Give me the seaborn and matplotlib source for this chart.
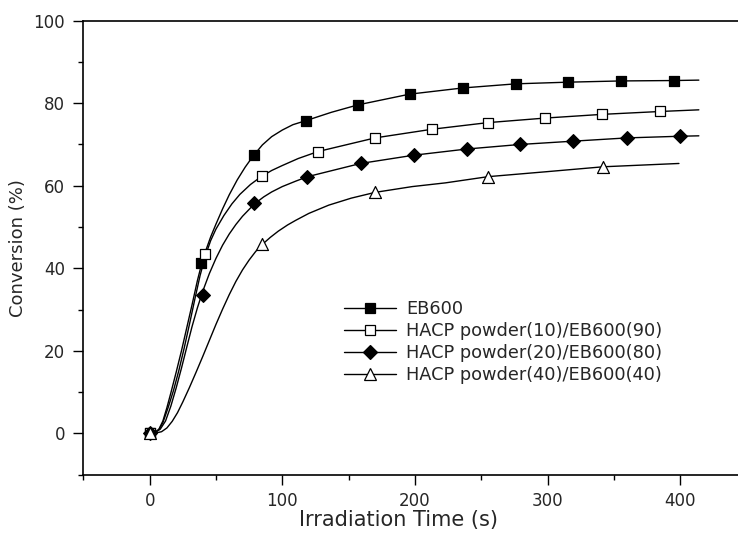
import matplotlib
matplotlib.use("Agg")
import matplotlib.pyplot as plt
import seaborn as sns
from matplotlib.lines import Line2D

labels = ["EB600", "HACP powder(10)/EB600(90)",
          "HACP powder(20)/EB600(80)", "HACP powder(40)/EB600(40)"]

eb_t = [0, 39, 79, 118, 157, 196, 236, 276, 315, 355, 395]
eb_c = [0, 41.2, 67.4, 75.8, 79.6, 82.2, 83.7, 84.7, 85.1, 85.4, 85.5]
h10_t = [0, 42, 85, 127, 170, 213, 255, 298, 341, 385]
h10_c = [0, 43.4, 62.4, 68.3, 71.6, 73.7, 75.3, 76.4, 77.3, 78.0]
h20_t = [0, 40, 79, 119, 159, 199, 239, 279, 319, 360, 400]
h20_c = [0, 33.5, 55.7, 62.2, 65.4, 67.4, 68.9, 70.0, 70.8, 71.6, 72.0]
h40_t = [0, 85, 170, 255, 342]
h40_c = [0, 45.8, 58.4, 62.2, 64.6]

# smooth curves
eb_fit_t = [0, 4, 7, 10, 13, 16, 20, 24, 28, 32, 36, 39, 42, 46, 50, 55, 60,
            66, 72, 78, 85, 92, 100, 108, 118, 137, 157, 196, 236, 276, 315,
            355, 395, 414]
eb_fit_c = [0, 0.2, 1.0, 3.0, 6.2, 9.8, 14.8, 20.0, 25.6, 31.2, 37.0, 40.8,
            44.0, 47.6, 50.7, 54.4, 57.8, 61.4, 64.5, 67.2, 69.9, 71.9, 73.5,
            74.8, 75.8, 77.8, 79.6, 82.2, 83.7, 84.7, 85.1, 85.4, 85.5, 85.6]
h10_fit_t = [0, 4, 7, 10, 14, 18, 22, 26, 30, 34, 38, 42, 46, 50, 56, 62, 68,
             76, 84, 92, 100, 112, 127, 170, 213, 255, 298, 341, 385, 414]
h10_fit_c = [0, 0.2, 0.9, 2.6, 6.3, 10.4, 15.2, 20.6, 26.4, 32.4, 38.2, 43.0,
             46.7, 49.5, 52.8, 55.6, 57.9, 60.3, 62.2, 63.7, 64.9, 66.6, 68.3,
             71.6, 73.7, 75.3, 76.4, 77.3, 78.0, 78.4]
h20_fit_t = [0, 4, 8, 12, 16, 20, 24, 28, 32, 36, 40, 45, 50, 55, 60, 65, 70,
             79, 86, 92, 100, 110, 119, 159, 199, 239, 279, 319, 360, 400, 414]
h20_fit_c = [0, 0.2, 1.0, 3.0, 6.6, 11.0, 15.8, 20.9, 25.9, 30.4, 34.4, 38.7,
             42.4, 45.6, 48.3, 50.6, 52.6, 55.6, 57.3, 58.5, 59.8, 61.1, 62.2,
             65.4, 67.4, 68.9, 70.0, 70.8, 71.6, 72.0, 72.1]
h40_fit_t = [0, 5, 9, 13, 17, 21, 25, 30, 35, 40, 45, 50, 55, 60, 65, 70, 75,
             80, 85, 91, 97, 104, 110, 120, 135, 152, 170, 198, 223, 255, 299,
             342, 399]
h40_fit_c = [0, 0.1, 0.4, 1.3, 2.9, 5.0, 7.6, 11.1, 14.8, 18.6, 22.5, 26.4,
             30.1, 33.6, 36.8, 39.6, 42.0, 44.1, 45.8, 47.5, 49.0, 50.5, 51.6,
             53.3, 55.3, 57.0, 58.4, 59.8, 60.7, 62.2, 63.4, 64.6, 65.4]

series = [
    (eb_t, eb_c, eb_fit_t, eb_fit_c, "s", "black", 7.2),
    (h10_t, h10_c, h10_fit_t, h10_fit_c, "s", "white", 7.2),
    (h20_t, h20_c, h20_fit_t, h20_fit_c, "D", "black", 7.0),
    (h40_t, h40_c, h40_fit_t, h40_fit_c, "^", "white", 8.6),
]

sns.set_style("ticks")
plt.rcParams["font.family"] = ["DejaVu Sans"]

fig = plt.figure(figsize=(7.38, 5.36), dpi=100)
ax = fig.add_axes([83.3 / 738, 61.4 / 536, 663.3 / 738, 453.9 / 536])

for t, c, ft, fc, mk, fcol, ms in series:
    sns.lineplot(x=ft, y=fc, ax=ax, color="black", linewidth=1.0,
                 estimator=None, sort=False, legend=False)
    sns.scatterplot(x=t, y=c, ax=ax, marker=mk, s=ms ** 2, color=fcol,
                    edgecolor="black", linewidth=0.9, zorder=3, legend=False)

ax.set_xlim(-50, 450)
ax.set_ylim(-10, 100)
ax.set_xticks([0, 100, 200, 300, 400])
ax.set_xticks([-50, 50, 150, 250, 350, 450], minor=True)
ax.set_yticks([0, 20, 40, 60, 80, 100])
ax.set_yticks([-10, 10, 30, 50, 70, 90], minor=True)
ax.tick_params(which="major", direction="out", length=7.2, width=1.0,
               labelsize=12, color="black", pad=5)
ax.tick_params(which="minor", direction="out", length=3.6, width=1.0,
               color="black")
ax.tick_params(axis="y", which="major", pad=6)
for side in ["left", "bottom", "top", "right"]:
    ax.spines[side].set_linewidth(1.2)
    ax.spines[side].set_color("black")
ax.spines["right"].set_visible(False)

ax.set_xlabel("Irradiation Time (s)", fontsize=15)
ax.set_ylabel("Conversion (%)", fontsize=13)
ax.xaxis.set_label_coords(0.475, -0.078)
ax.yaxis.set_label_coords(-0.085, 0.5)

handles = []
for t, c, ft, fc, mk, fcol, ms in series:
    handles.append(Line2D([], [], color="black", linewidth=1.0, marker=mk,
                          markersize=ms, markerfacecolor=fcol,
                          markeredgecolor="black", markeredgewidth=0.9))
fig.legend(handles, labels, loc="upper left",
           bbox_to_anchor=(344 / 738, 1 - 300 / 536), frameon=False,
           fontsize=12.8, handlelength=2.9, handletextpad=0.6,
           labelspacing=0.22, borderpad=0, borderaxespad=0)

fig.savefig("out.png", dpi=100)
